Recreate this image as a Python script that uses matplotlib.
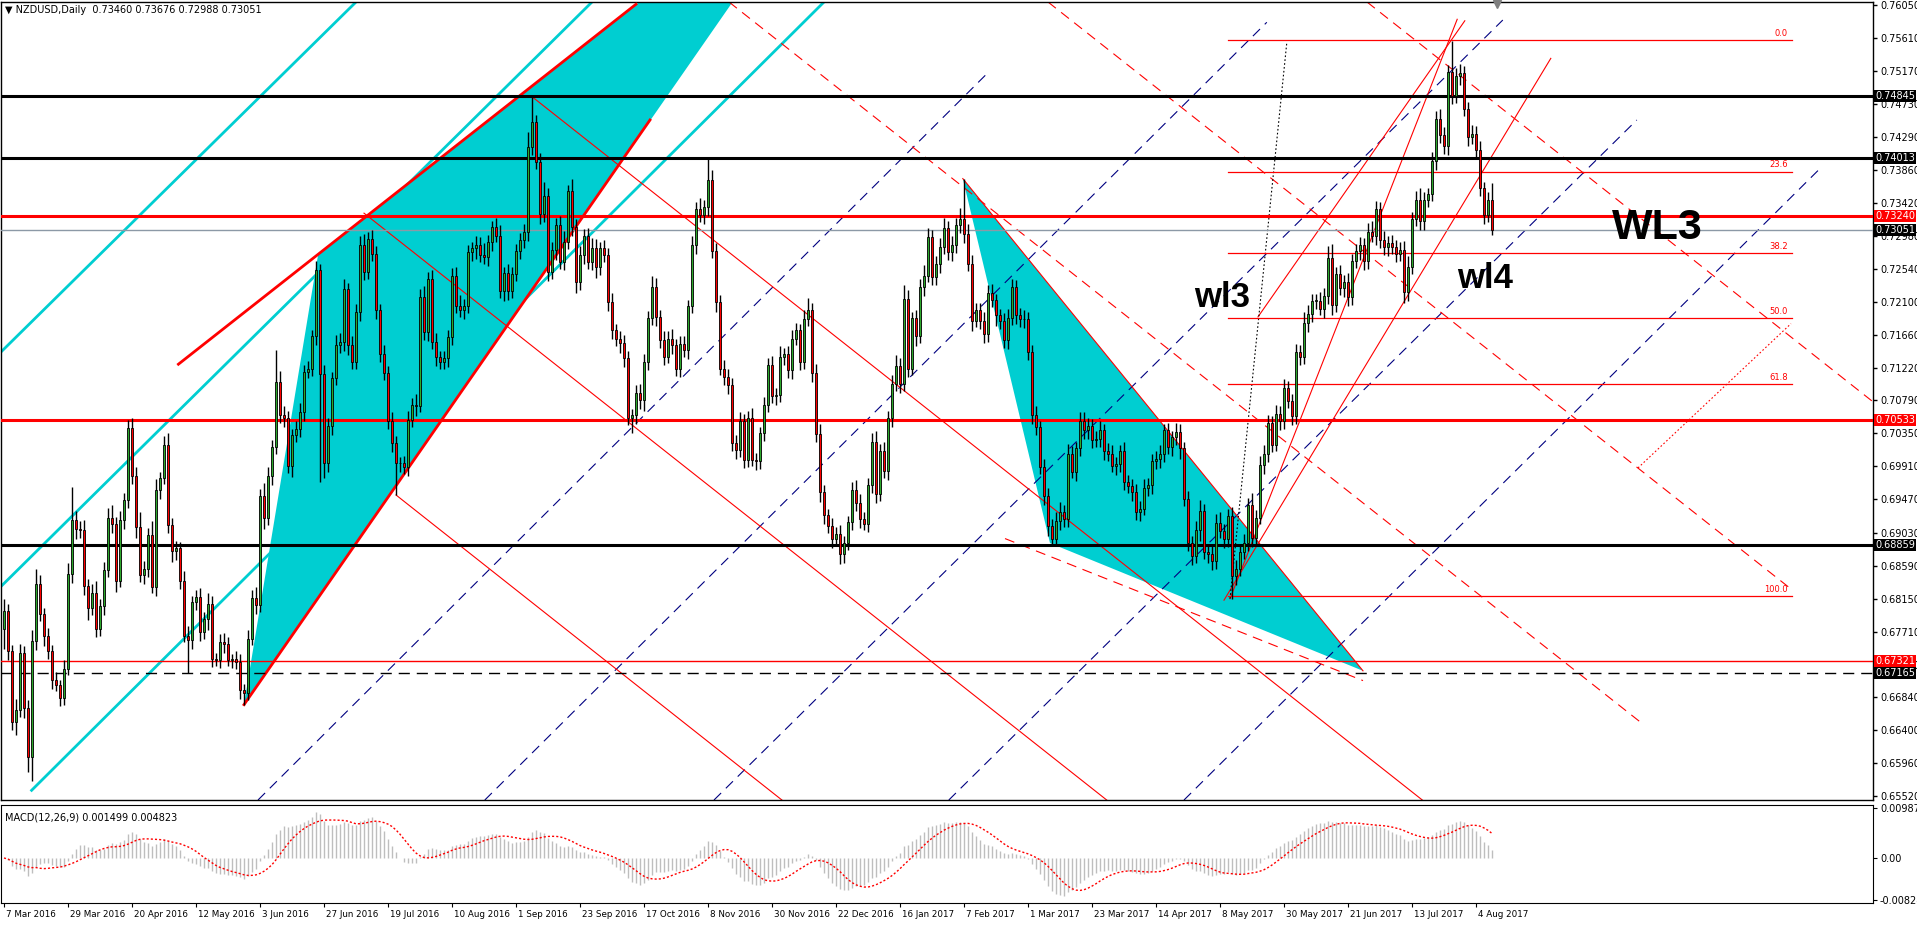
import numpy as np
import pandas as pd
import matplotlib
matplotlib.use("Agg")
import matplotlib.pyplot as plt
from matplotlib.patches import Polygon
import matplotlib.transforms as mtrans

# ---------------- data ----------------
first_open = 0.6775
closes = [
    0.6798, 0.6745, 0.6651, 0.6667, 0.6743, 0.6670, 0.6605, 0.6759, 0.6835, 0.6794, 0.6766, 0.6745, 0.6707, 0.6700, 0.6683, 0.6722,
    0.6848, 0.6920, 0.6908, 0.6906, 0.6832, 0.6802, 0.6823, 0.6775, 0.6805, 0.6853, 0.6922, 0.6914, 0.6838, 0.6920, 0.6946, 0.7042,
    0.6978, 0.6910, 0.6846, 0.6854, 0.6900, 0.6830, 0.6959, 0.6976, 0.7020, 0.6913, 0.6878, 0.6882, 0.6838, 0.6766, 0.6760, 0.6810,
    0.6817, 0.6771, 0.6788, 0.6808, 0.6735, 0.6733, 0.6758, 0.6755, 0.6734, 0.6735, 0.6731, 0.6693, 0.6690, 0.6762, 0.6816, 0.6807,
    0.6951, 0.6922, 0.6978, 0.7017, 0.7103, 0.7060, 0.7055, 0.6991, 0.7033, 0.7041, 0.7063, 0.7117, 0.7121, 0.7164, 0.7252, 0.7114,
    0.6995, 0.7045, 0.7108, 0.7152, 0.7157, 0.7227, 0.7153, 0.7130, 0.7197, 0.7285, 0.7250, 0.7294, 0.7274, 0.7199, 0.7141, 0.7115,
    0.7051, 0.7022, 0.6995, 0.6995, 0.6990, 0.7053, 0.7073, 0.7072, 0.7216, 0.7170, 0.7240, 0.7157, 0.7137, 0.7130, 0.7135, 0.7163,
    0.7245, 0.7205, 0.7199, 0.7205, 0.7276, 0.7281, 0.7285, 0.7272, 0.7270, 0.7289, 0.7309, 0.7298, 0.7225, 0.7248, 0.7225, 0.7247,
    0.7278, 0.7292, 0.7303, 0.7416, 0.7449, 0.7396, 0.7327, 0.7351, 0.7250, 0.7279, 0.7312, 0.7263, 0.7290, 0.7358, 0.7309, 0.7236,
    0.7272, 0.7298, 0.7263, 0.7281, 0.7256, 0.7281, 0.7272, 0.7210, 0.7172, 0.7161, 0.7155, 0.7135, 0.7055, 0.7059, 0.7089, 0.7079,
    0.7130, 0.7188, 0.7230, 0.7190, 0.7159, 0.7137, 0.7161, 0.7152, 0.7121, 0.7154, 0.7146, 0.7205, 0.7285, 0.7334, 0.7325, 0.7336,
    0.7372, 0.7278, 0.7210, 0.7121, 0.7110, 0.7100, 0.7022, 0.7013, 0.7052, 0.7000, 0.7055, 0.7000, 0.6998, 0.7036, 0.7073, 0.7126,
    0.7085, 0.7086, 0.7137, 0.7140, 0.7119, 0.7161, 0.7172, 0.7130, 0.7187, 0.7199, 0.7115, 0.7034, 0.6957, 0.6926, 0.6912, 0.6895,
    0.6901, 0.6875, 0.6889, 0.6917, 0.6959, 0.6942, 0.6921, 0.6915, 0.6966, 0.7023, 0.6954, 0.7012, 0.6985, 0.7055, 0.7101, 0.7125,
    0.7101, 0.7214, 0.7121, 0.7188, 0.7165, 0.7230, 0.7245, 0.7296, 0.7243, 0.7261, 0.7283, 0.7308, 0.7276, 0.7286, 0.7312, 0.7320,
    0.7300, 0.7261, 0.7185, 0.7199, 0.7185, 0.7167, 0.7222, 0.7212, 0.7192, 0.7185, 0.7159, 0.7188, 0.7230, 0.7192, 0.7187, 0.7187,
    0.7143, 0.7059, 0.7043, 0.6990, 0.6952, 0.6912, 0.6895, 0.6919, 0.6930, 0.6921, 0.7008, 0.6984, 0.7015, 0.7052, 0.7039, 0.7045,
    0.7026, 0.7028, 0.7039, 0.7012, 0.7008, 0.6992, 0.6994, 0.7012, 0.6970, 0.6965, 0.6957, 0.6930, 0.6935, 0.6962, 0.6966, 0.6998,
    0.7001, 0.7008, 0.7039, 0.7017, 0.7030, 0.7037, 0.7015, 0.6947, 0.6889, 0.6872, 0.6906, 0.6932, 0.6877, 0.6874, 0.6865, 0.6916,
    0.6905, 0.6894, 0.6925, 0.6845, 0.6855, 0.6877, 0.6889, 0.6940, 0.6896, 0.6923, 0.6993, 0.7008, 0.7049, 0.7020, 0.7061, 0.7051,
    0.7095, 0.7078, 0.7058, 0.7143, 0.7136, 0.7182, 0.7194, 0.7211, 0.7211, 0.7201, 0.7218, 0.7269, 0.7206, 0.7247, 0.7228, 0.7237,
    0.7216, 0.7264, 0.7278, 0.7285, 0.7264, 0.7303, 0.7298, 0.7334, 0.7292, 0.7283, 0.7288, 0.7283, 0.7274, 0.7279, 0.7223, 0.7257,
    0.7320, 0.7346, 0.7317, 0.7346, 0.7353, 0.7397, 0.7453, 0.7432, 0.7417, 0.7516, 0.7484, 0.7511, 0.7514, 0.7467, 0.7429, 0.7434,
    0.7412, 0.7361, 0.7325, 0.7346, 0.7305,
]
# wicks in pips above the body top / below the body bottom
wick_up = [
    16, 10, 8, 14, 12, 9, 10, 14, 20, 12, 8, 10, 9, 11, 7, 12,
    15, 43, 12, 10, 14, 9, 12, 16, 10, 11, 14, 18, 10, 12, 9, 11,
    14, 12, 20, 11, 9, 18, 15, 8, 12, 16, 10, 10, 9, 14, 12, 8,
    10, 12, 9, 14, 11, 8, 10, 12, 9, 7, 11, 10, 8, 12, 10, 14,
    10, 18, 12, 9, 43, 15, 12, 10, 8, 11, 13, 9, 10, 8, 12, 8,
    12, 10, 9, 14, 11, 13, 8, 12, 10, 12, 15, 9, 11, 10, 8, 12,
    9, 12, 10, 8, 10, 12, 9, 14, 11, 15, 10, 13, 12, 8, 10, 9,
    10, 12, 14, 9, 10, 8, 12, 11, 16, 10, 9, 12, 14, 8, 12, 10,
    9, 10, 11, 20, 33, 10, 12, 18, 11, 10, 9, 12, 14, 8, 15, 11,
    12, 9, 10, 14, 12, 8, 11, 10, 12, 9, 10, 11, 9, 8, 10, 12,
    11, 10, 14, 12, 9, 12, 10, 13, 9, 11, 10, 8, 12, 9, 14, 10,
    28, 14, 10, 9, 12, 10, 8, 11, 12, 9, 10, 14, 9, 8, 10, 9,
    12, 10, 14, 9, 11, 12, 10, 9, 12, 16, 10, 12, 14, 9, 8, 10,
    9, 12, 10, 8, 11, 14, 12, 9, 10, 12, 15, 9, 11, 10, 12, 14,
    10, 18, 12, 9, 11, 10, 14, 12, 9, 10, 12, 13, 10, 11, 9, 15,
    54, 14, 12, 10, 9, 11, 10, 12, 9, 8, 10, 12, 11, 9, 10, 12,
    9, 10, 12, 8, 11, 10, 9, 12, 14, 10, 13, 10, 9, 12, 11, 10,
    9, 10, 12, 8, 10, 11, 9, 8, 12, 10, 9, 11, 10, 12, 9, 10,
    11, 12, 9, 10, 8, 12, 10, 9, 11, 10, 12, 14, 9, 10, 11, 12,
    14, 10, 9, 12, 11, 10, 12, 9, 15, 10, 12, 11, 10, 9, 12, 10,
    12, 10, 9, 11, 10, 14, 12, 10, 9, 12, 11, 15, 18, 10, 12, 9,
    12, 10, 9, 11, 10, 12, 14, 10, 9, 12, 10, 11, 9, 10, 12, 14,
    10, 12, 15, 10, 9, 12, 11, 14, 10, 9, 41, 10, 12, 10, 9, 11,
    10, 12, 9, 10, 22,
]
wick_dn = [
    27, 12, 11, 18, 10, 14, 20, 32, 12, 9, 14, 10, 12, 8, 11, 10,
    9, 12, 14, 10, 12, 15, 9, 11, 10, 12, 9, 11, 14, 8, 12, 10,
    10, 14, 9, 12, 10, 8, 12, 11, 9, 10, 14, 12, 10, 9, 44, 12,
    10, 12, 9, 14, 11, 8, 10, 12, 9, 11, 10, 12, 16, 10, 9, 12,
    10, 14, 9, 12, 10, 11, 12, 9, 14, 10, 11, 12, 9, 10, 12, 144,
    20, 11, 12, 9, 10, 12, 14, 10, 9, 12, 11, 9, 10, 12, 11, 9,
    10, 12, 42, 11, 9, 12, 10, 14, 9, 11, 12, 10, 13, 9, 10, 12,
    11, 10, 9, 12, 10, 11, 14, 9, 10, 12, 11, 9, 10, 14, 12, 10,
    9, 11, 10, 12, 10, 9, 14, 11, 12, 10, 13, 9, 11, 10, 12, 14,
    10, 12, 9, 11, 14, 10, 9, 12, 11, 10, 13, 12, 9, 20, 11, 12,
    14, 11, 9, 12, 10, 11, 9, 12, 10, 11, 9, 12, 10, 11, 9, 12,
    12, 10, 14, 9, 11, 12, 10, 12, 9, 11, 10, 9, 12, 10, 11, 9,
    10, 12, 9, 11, 10, 12, 9, 11, 10, 9, 12, 10, 14, 11, 10, 12,
    10, 14, 12, 9, 11, 10, 12, 9, 11, 10, 12, 9, 10, 12, 11, 9,
    12, 10, 11, 9, 14, 10, 12, 9, 10, 11, 12, 9, 10, 12, 11, 10,
    12, 10, 14, 9, 11, 12, 10, 9, 14, 11, 10, 12, 9, 11, 10, 12,
    11, 12, 10, 9, 12, 14, 10, 9, 12, 11, 10, 9, 12, 10, 11, 12,
    10, 9, 11, 12, 10, 9, 12, 11, 10, 9, 12, 10, 11, 9, 10, 12,
    10, 12, 11, 9, 12, 10, 14, 9, 11, 12, 10, 14, 9, 11, 12, 10,
    9, 11, 10, 31, 12, 10, 9, 11, 12, 10, 9, 12, 11, 10, 9, 12,
    10, 9, 12, 11, 10, 9, 12, 11, 10, 9, 12, 11, 14, 10, 9, 12,
    11, 10, 9, 12, 11, 10, 9, 12, 11, 10, 12, 9, 11, 10, 14, 12,
    10, 9, 12, 11, 10, 9, 12, 11, 10, 12, 11, 9, 12, 10, 11, 9,
    12, 10, 11, 9, 6,
]

date_labels = ["7 Mar 2016", "29 Mar 2016", "20 Apr 2016", "12 May 2016", "3 Jun 2016", "27 Jun 2016",
               "19 Jul 2016", "10 Aug 2016", "1 Sep 2016", "23 Sep 2016", "17 Oct 2016", "8 Nov 2016",
               "30 Nov 2016", "22 Dec 2016", "16 Jan 2017", "7 Feb 2017", "1 Mar 2017", "23 Mar 2017",
               "14 Apr 2017", "8 May 2017", "30 May 2017", "21 Jun 2017", "13 Jul 2017", "4 Aug 2017"]
bars_per_label = 16

price_ticks = [0.76050, 0.75610, 0.75170, 0.74730, 0.74290, 0.73860, 0.73420, 0.72980, 0.72540, 0.72100,
               0.71660, 0.71220, 0.70790, 0.70350, 0.69910, 0.69470, 0.69030, 0.68590, 0.68150, 0.67710,
               0.67270, 0.66840, 0.66400, 0.65960, 0.65520]
macd_ticks = [0.00987, 0.0, -0.008289]
macd_tick_labels = ["0.00987", "0.00", "-0.008289"]

# horizontal levels: price, colour, width, style, label box colour
levels = [
    (0.74845, "black", 2.2, "-", "black"),
    (0.74013, "black", 2.2, "-", "black"),
    (0.73240, "red", 2.2, "-", "red"),
    (0.73051, "#8C99A6", 1.0, "-", "black"),
    (0.70533, "red", 2.2, "-", "red"),
    (0.68859, "black", 2.2, "-", "black"),
    (0.67321, "red", 1.0, "-", "red"),
    (0.67165, "black", 1.0, (0, (8, 5)), "black"),
]

# trend lines drawn on the chart: (bar0, price0, bar1, price1)
cyan_lines = [(-1, 0.7142, 88, 0.7609), (-1, 0.6830, 147, 0.7609), (6.9, 0.6560, 205, 0.7609)]
red_thick = [(43.6, 0.7127, 158, 0.7606), (60, 0.6674, 161.5, 0.7452)]
red_thin = [(132, 0.7483, 354.6, 0.6547), (90, 0.7328, 275.7, 0.6547), (98, 0.6953, 194.5, 0.6547),
            (239.7, 0.7374, 339.75, 0.6719), (306.5, 0.6815, 363.3, 0.7586), (305, 0.6813, 386.7, 0.7534),
            (313.5, 0.7190, 365.2, 0.7584)]
red_dashed = [(181.25, 0.7609, 410, 0.6647), (261, 0.7609, 446.5, 0.6829), (340.75, 0.7609, 467.25, 0.7077),
              (250.25, 0.6895, 339.75, 0.6706)]
navy_dashed = [(63.5, 0.65471, 246, 0.7515), (120.2, 0.65471, 315.7, 0.7582), (177.5, 0.65471, 374.7, 0.7585),
               (236.2, 0.65471, 408.2, 0.7452), (295, 0.65471, 454.5, 0.7390)]
red_dotted = [(408.5, 0.6989, 446.75, 0.7181)]
black_dotted = [(306.5, 0.6815, 320.7, 0.7555)]

cyan_fills = [[(60, 0.6674), (78.5, 0.7272), (210.5, 0.7826)],
              [(239.7, 0.7374), (261.5, 0.6889), (339.75, 0.6719)]]

fib_low, fib_high = 0.6818, 0.7558
fib_levels = [0.0, 23.6, 38.2, 50.0, 61.8, 100.0]
fib_start, fib_end = 306, 447

wave_texts = [("WL3", 402, 0.7308, 31), ("wl3", 297.5, 0.7216, 25), ("wl4", 363.3, 0.7241, 25)]

# ---------------- figure ----------------
W, H = 1917, 927
fig = plt.figure(figsize=(W / 100, H / 100), dpi=100)
fig.patch.set_facecolor("white")

ax = fig.add_axes([1 / W, 1 - 800 / H, 1872 / W, 798 / H])
axm = fig.add_axes([1 / W, 1 - 903 / H, 1872 / W, 98 / H])

n = len(closes)
x = np.arange(n)
c = np.array(closes)
o = np.array([first_open] + closes[:-1])
hi = np.maximum(o, c) + np.array(wick_up) / 10000.0
lo = np.minimum(o, c) - np.array(wick_dn) / 10000.0

# overlays beneath the candles
for tri in cyan_fills:
    ax.add_patch(Polygon(tri, closed=True, facecolor="#00CED1", edgecolor="none", zorder=1))

for b0, p0, b1, p1 in cyan_lines:
    ax.plot([b0, b1], [p0, p1], color="#00CED1", lw=2, zorder=2)
for b0, p0, b1, p1 in navy_dashed:
    ax.plot([b0, b1], [p0, p1], color="#000080", lw=0.8, ls=(0, (9, 6)), zorder=2)
for b0, p0, b1, p1 in red_dashed:
    ax.plot([b0, b1], [p0, p1], color="red", lw=0.8, ls=(0, (9, 6)), zorder=2)
for b0, p0, b1, p1 in red_thin:
    ax.plot([b0, b1], [p0, p1], color="red", lw=0.8, zorder=2)
for b0, p0, b1, p1 in red_dotted:
    ax.plot([b0, b1], [p0, p1], color="red", lw=0.8, ls=(0, (1.5, 2)), zorder=2)
for b0, p0, b1, p1 in black_dotted:
    ax.plot([b0, b1], [p0, p1], color="black", lw=0.8, ls=(0, (1.5, 2)), zorder=2)
for b0, p0, b1, p1 in red_thick:
    ax.plot([b0, b1], [p0, p1], color="red", lw=2, zorder=3)

for price, col, lw, ls, _ in levels:
    ax.axhline(price, color=col, lw=lw, ls=ls, zorder=3)

# fibonacci retracement
for lev in fib_levels:
    fp = fib_high - (fib_high - fib_low) * lev / 100.0
    ax.plot([fib_start, fib_end], [fp, fp], color="red", lw=0.9, zorder=3)
    ax.text(fib_end - 1, fp + 0.0003, "%.1f" % lev, color="red", fontsize=6, ha="right", va="bottom", zorder=3)

# candles
ax.vlines(x, lo, hi, color="black", lw=1, zorder=4)
body_lo = np.minimum(o, c)
body_h = np.maximum(np.abs(c - o), 0.00008)
bull = c >= o
ax.bar(x[bull], body_h[bull], bottom=body_lo[bull], width=0.72, color="#2CA82C",
       edgecolor="black", linewidth=0.6, zorder=5)
ax.bar(x[~bull], body_h[~bull], bottom=body_lo[~bull], width=0.72, color="#FF0000",
       edgecolor="black", linewidth=0.6, zorder=5)

for txt, bx, py, fs in wave_texts:
    ax.text(bx, py, txt, fontsize=fs, fontweight="bold", family="Liberation Sans",
            color="black", ha="left", va="center", zorder=6)

ax.set_xlim(-0.75, 467.25)
ax.set_ylim(0.654713, 0.760899)

# chart shift marker
ax.plot([373.25], [0.7606], marker="v", color="#7F7F7F", markersize=6, clip_on=False, zorder=7)

# price scale on the right
ax.yaxis.tick_right()
ax.set_yticks(price_ticks)
ax.set_yticklabels(["%.5f" % p for p in price_ticks])
ax.tick_params(axis="y", direction="out", length=3, width=1, labelsize=7, pad=2)
ax.set_xticks([])
for sp in ax.spines.values():
    sp.set_linewidth(1)

ytrans = mtrans.blended_transform_factory(ax.transAxes, ax.transData)
for price, col, lw, ls, box in levels:
    ax.text(1.0012, price, "%.5f" % price, transform=ytrans, fontsize=7, color="white",
            ha="left", va="center", clip_on=False, zorder=10,
            bbox=dict(boxstyle="square,pad=0.1", facecolor=box, edgecolor="none"))

fig.text(5 / W, 1 - 10 / H, "\u25BC NZDUSD,Daily  0.73460 0.73676 0.72988 0.73051",
         fontsize=7, ha="left", va="center")

# MACD panel
s = pd.Series(c)
macd = s.ewm(span=12, adjust=False).mean() - s.ewm(span=26, adjust=False).mean()
signal = macd.rolling(9, min_periods=1).mean()
axm.vlines(x, 0, macd.values, color="#BEBEBE", lw=1, zorder=2)
axm.plot(x, signal.values, color="red", lw=1, ls=(0, (1.5, 1.5)), zorder=3)
axm.set_xlim(-0.75, 467.25)
axm.set_ylim(-0.008883, 0.010462)
axm.yaxis.tick_right()
axm.set_yticks(macd_ticks)
axm.set_yticklabels(macd_tick_labels)
axm.tick_params(axis="y", direction="out", length=3, labelsize=7, pad=2)
xt = np.arange(len(date_labels)) * bars_per_label
axm.set_xticks(xt)
axm.set_xticklabels(date_labels, ha="left")
axm.tick_params(axis="x", direction="out", length=3, labelsize=6.3, pad=2)
for lab in axm.get_xticklabels():
    lab.set_transform(lab.get_transform() + mtrans.ScaledTranslation(2 / 100, 0, fig.dpi_scale_trans))
fig.text(5 / W, 1 - 817 / H, "MACD(12,26,9) 0.001499 0.004823", fontsize=7, ha="left", va="center")

fig.savefig("out.png", dpi=100, facecolor="white")
